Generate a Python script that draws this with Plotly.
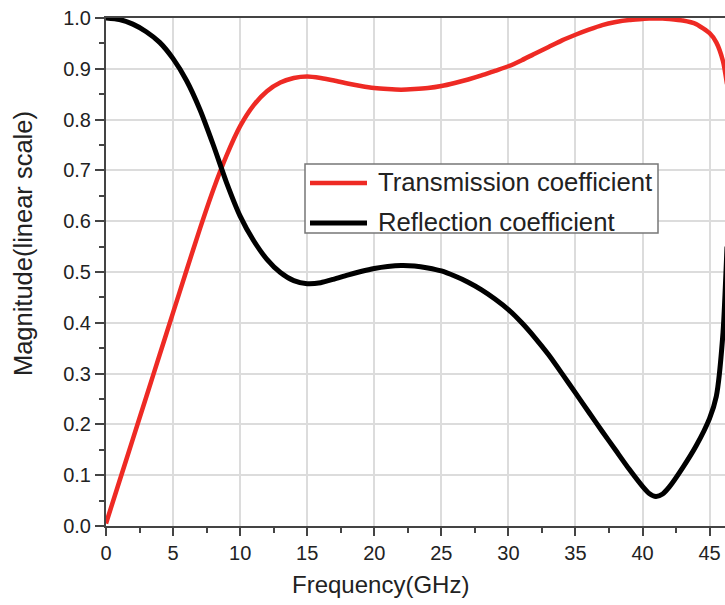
import plotly.graph_objects as go

freq = [0, 1, 2, 3, 4, 5, 6, 7, 8, 9, 10, 11, 12, 13, 14, 15, 16, 17, 18, 19, 20,
        21, 22, 23, 24, 25, 26, 27, 28, 29, 30, 31, 32, 33, 34, 35, 36, 37, 38, 39, 40,
        40.5, 41, 41.5, 42, 43, 44, 45, 45.5, 46, 46.3]

transmission = [0.005, 0.088, 0.171, 0.254, 0.337, 0.42, 0.503, 0.585, 0.662, 0.73, 0.787,
                0.828, 0.856, 0.873, 0.882, 0.885, 0.882, 0.877, 0.871, 0.866, 0.862,
                0.86, 0.859, 0.86, 0.862, 0.866, 0.872, 0.879, 0.887, 0.896, 0.905, 0.917, 0.93,
                0.943, 0.956, 0.967, 0.977, 0.986, 0.992, 0.996, 0.998,
                0.999, 0.999, 0.999, 0.998, 0.995, 0.988, 0.97, 0.952, 0.915, 0.87]

reflection = [1.0, 0.997, 0.988, 0.973, 0.952, 0.92, 0.877, 0.82, 0.75, 0.675, 0.61,
              0.562, 0.525, 0.499, 0.483, 0.477, 0.479, 0.486, 0.494, 0.501, 0.507,
              0.511, 0.513, 0.512, 0.508, 0.502, 0.492, 0.48, 0.465, 0.447, 0.426, 0.40, 0.37,
              0.337, 0.3, 0.262, 0.224, 0.186, 0.149, 0.112, 0.078,
              0.064, 0.058, 0.063, 0.077, 0.115, 0.158, 0.212, 0.255, 0.38, 0.55]

x_ticks = [0, 5, 10, 15, 20, 25, 30, 35, 40, 45]
y_ticks = [0.0, 0.1, 0.2, 0.3, 0.4, 0.5, 0.6, 0.7, 0.8, 0.9, 1.0]

series_names = ["Transmission coefficient", "Reflection coefficient"]
series_colors = ["#ee2a24", "#000000"]
series_widths = [4.5, 5]

FONT = "Liberation Sans, Arial, Helvetica, sans-serif"
AXIS_COLOR = "#444444"
GRID_COLOR = "#dcdcdc"
TEXT_COLOR = "#222222"

# plot area in pixels (for placing the legend box)
L, R, T, B = 106, 725, 18, 526
def px(xp):
    return (xp - L) / (R - L)
def py(yp):
    return (B - yp) / (B - T)

fig = go.Figure()
for vals, name, col, w in zip([transmission, reflection], series_names, series_colors, series_widths):
    fig.add_trace(go.Scatter(x=freq, y=vals, mode="lines", name=name, showlegend=False,
                             line=dict(color=col, width=w, shape="spline", smoothing=0.6)))

shapes = [dict(type="rect", xref="paper", yref="paper", x0=px(305), x1=px(658), y0=py(233), y1=py(164),
               line=dict(color="#777777", width=1.5), fillcolor="white", layer="above")]
annotations = []
rows = [183, 223]
for name, col, w, ry in zip(series_names, series_colors, series_widths, rows):
    shapes.append(dict(type="line", xref="paper", yref="paper", x0=px(310), x1=px(367),
                       y0=py(ry), y1=py(ry), line=dict(color=col, width=w), layer="above"))
    annotations.append(dict(text=name, x=px(376), y=py(ry - 1), xref="paper", yref="paper",
                            showarrow=False, xanchor="left", yanchor="middle",
                            font=dict(size=25.7, family=FONT, color=TEXT_COLOR)))

annotations += [
    dict(text="Frequency(GHz)", x=0.4427, y=-0.116, xref="paper", yref="paper",
         showarrow=False, font=dict(size=24, family=FONT, color=TEXT_COLOR),
         xanchor="center", yanchor="middle"),
    dict(text="Magnitude(linear scale)", x=-0.134, y=0.555, xref="paper", yref="paper",
         showarrow=False, textangle=-90, font=dict(size=25.5, family=FONT, color=TEXT_COLOR),
         xanchor="center", yanchor="middle"),
]

fig.update_layout(
    width=725, height=605,
    margin=dict(l=L, r=725 - R, t=T, b=605 - B),
    plot_bgcolor="white", paper_bgcolor="white",
    font=dict(family=FONT, color=TEXT_COLOR),
    showlegend=False,
    shapes=shapes,
    annotations=annotations,
)

fig.update_xaxes(range=[0, 46.15], tickvals=x_ticks, ticktext=[str(v) for v in x_ticks],
                 showgrid=True, gridcolor=GRID_COLOR, gridwidth=1.5,
                 showline=True, linecolor=AXIS_COLOR, linewidth=2, mirror=True,
                 ticks="outside", ticklen=8, tickwidth=2, tickcolor=AXIS_COLOR,
                 tickfont=dict(size=20, family=FONT, color=TEXT_COLOR),
                 minor=dict(ticks="outside", ticklen=5, tickwidth=1.5, tickcolor=AXIS_COLOR,
                            dtick=2.5, tick0=0, showgrid=False),
                 zeroline=False)
fig.update_yaxes(range=[0, 1.0], tickvals=y_ticks, ticktext=[f"{v:.1f}" for v in y_ticks],
                 showgrid=True, gridcolor=GRID_COLOR, gridwidth=1.5,
                 showline=True, linecolor=AXIS_COLOR, linewidth=2, mirror=False,
                 ticks="outside", ticklen=9, tickwidth=2, tickcolor=AXIS_COLOR,
                 tickfont=dict(size=20, family=FONT, color=TEXT_COLOR),
                 minor=dict(ticks="outside", ticklen=5, tickwidth=1.5, tickcolor=AXIS_COLOR,
                            dtick=0.05, tick0=0, showgrid=False),
                 zeroline=False)

fig.write_html("out.html")
